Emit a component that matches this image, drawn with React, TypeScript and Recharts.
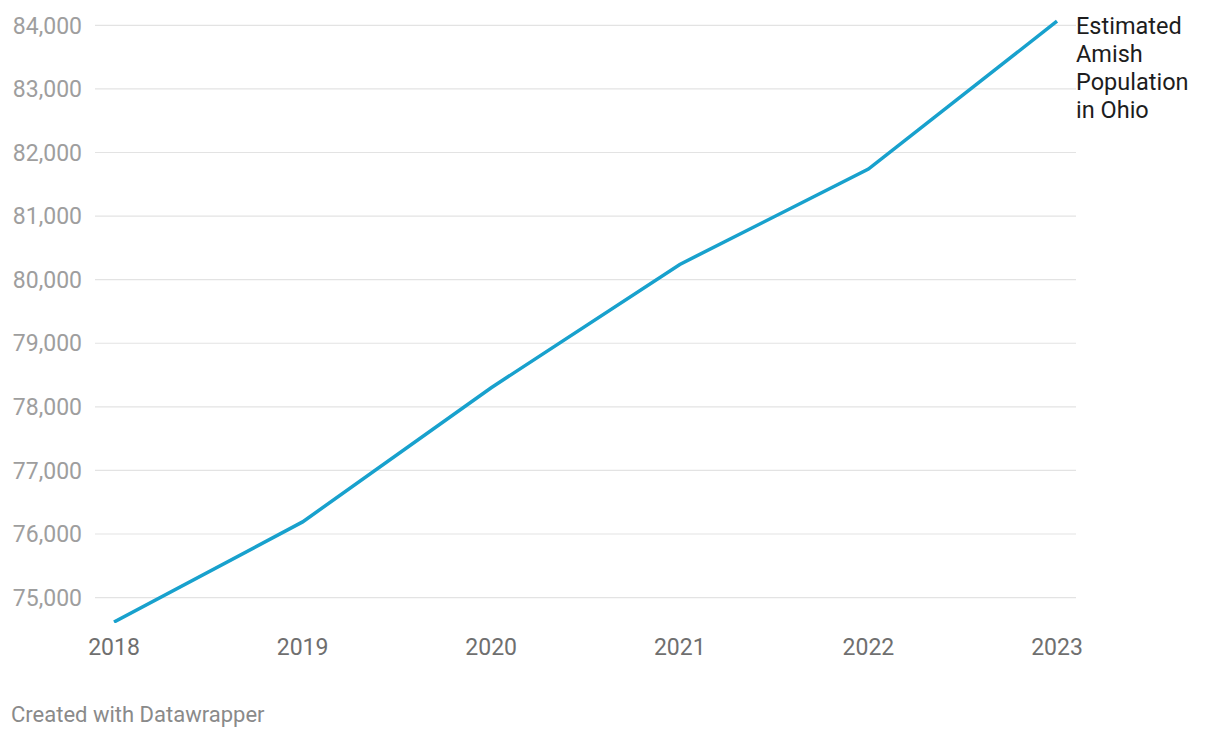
import { CartesianGrid, Line, LineChart, XAxis, YAxis } from 'recharts';

const YEARS = ['2018', '2019', '2020', '2021', '2022', '2023'];
const POPULATION = [74615, 76190, 78300, 80240, 81740, 84065];
const Y_TICKS = [75000, 76000, 77000, 78000, 79000, 80000, 81000, 82000, 83000, 84000];
const SERIES_LABEL = ['Estimated', 'Amish', 'Population', 'in Ohio'];

const FONT = 'Roboto, "Noto Sans", sans-serif';

const data = YEARS.map((year, i) => ({ year, value: POPULATION[i] }));

const fmt = (v: number) => v.toLocaleString('en-US');

function EndLabel(props: any) {
    const { x, y, index } = props;
    if (index !== YEARS.length - 1) return null;
    return (
        <text x={x + 19} y={y + 13} fill="#1d1d1d" fontSize={23.5} fontFamily={FONT}>
            {SERIES_LABEL.map((line, i) => (
                <tspan key={i} x={x + 19} dy={i === 0 ? 0 : 28}>
                    {line}
                </tspan>
            ))}
        </text>
    );
}

export default function App() {
    return (
        <div style={{ position: 'absolute', left: 0, top: 0, width: 1220, height: 738, background: '#fff' }}>
            <LineChart
                width={1220}
                height={738}
                data={data}
                margin={{ top: 19, right: 144, bottom: 85, left: 0 }}
            >
                <CartesianGrid
                    vertical={false}
                    stroke="#e3e3e3"
                    strokeWidth={1.2}
                    syncWithTicks
                />
                <XAxis
                    dataKey="year"
                    height={30}
                    axisLine={false}
                    tickLine={false}
                    tickSize={0}
                    tickMargin={16}
                    padding={{ left: 19, right: 19 }}
                    tick={{ fill: '#6f6f6f', fontSize: 23, fontFamily: FONT }}
                />
                <YAxis
                    width={95}
                    domain={[74600, 84100]}
                    ticks={Y_TICKS}
                    allowDataOverflow
                    axisLine={false}
                    tickLine={false}
                    tickSize={0}
                    tickMargin={13}
                    tickFormatter={fmt}
                    tick={{ fill: '#9e9e9e', fontSize: 23, fontFamily: FONT }}
                />
                <Line
                    type="linear"
                    dataKey="value"
                    stroke="#18a1cd"
                    strokeWidth={3.5}
                    dot={false}
                    activeDot={false}
                    isAnimationActive={false}
                    label={<EndLabel />}
                />
            </LineChart>
            <div
                style={{
                    position: 'absolute',
                    left: 11,
                    top: 704,
                    fontFamily: FONT,
                    fontSize: 22,
                    lineHeight: 1,
                    color: '#8a8a8a',
                }}
            >
                Created with Datawrapper
            </div>
        </div>
    );
}
